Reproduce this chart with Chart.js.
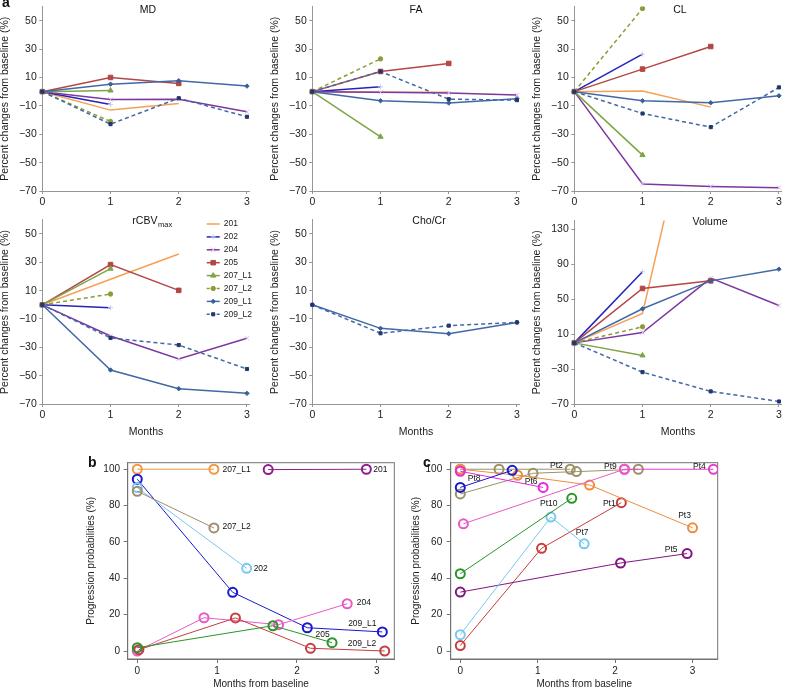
<!DOCTYPE html>
<html>
<head>
<meta charset="utf-8">
<script src="https://cdn.jsdelivr.net/npm/chart.js@4.4.1/dist/chart.umd.min.js"></script>
<style>
body { margin: 0; background: #fff; width: 788px; height: 689px; position: relative; overflow: hidden; font-family: "Liberation Sans", Arial, sans-serif; }
canvas { position: absolute; }
.panel { position: absolute; font-weight: bold; font-size: 14px; line-height: 14px; color: #111; }
</style>
</head>
<body>
<canvas id="cMD"></canvas>
<canvas id="cFA"></canvas>
<canvas id="cCL"></canvas>
<canvas id="cCBV"></canvas>
<canvas id="cCHO"></canvas>
<canvas id="cVOL"></canvas>
<canvas id="cB"></canvas>
<canvas id="cC"></canvas>
<div class="panel" style="left:2px;top:-5px">a</div>
<div class="panel" style="left:88px;top:455px">b</div>
<div class="panel" style="left:423px;top:455px">c</div>
<script>
// ---- panel a data: percent change from baseline, one row per lesion ----
var months = [0, 1, 2, 3];
var series = ['201', '202', '204', '205', '207_L1', '207_L2', '209_L1', '209_L2'];

var mdValues = [
    [0, -13, -8.3],
    [0, -9],
    [0, -5.5, -5.3, -14.2],
    [0, 10, 5.8],
    [0, 0.8],
    [0, -21],
    [0, 5.3, 7.7, 3.9],
    [0, -22.9, -4.6, -17.7]
];
var faValues = [
    [0, -0.5, -0.5],
    [0, 3.4],
    [0, -0.5, -1, -2.4],
    [0, 14.2, 19.9],
    [0, -31.8],
    [0, 23.1],
    [0, -6.4, -8, -5],
    [0, 14.2, -5.3, -6]
];
var clValues = [
    [0, 0.4, -10.9],
    [0, 26.4],
    [0, -65, -66.8, -67.7],
    [0, 15.9, 31.8],
    [0, -44.7],
    [0, 58.6],
    [0, -6.4, -7.8, -2.9],
    [0, -15.4, -25, 3]
];
var rcbvValues = [
    [0, 18, 35.9],
    [0, -2],
    [0, -22, -38.2, -23.6],
    [0, 28.4, 10.2],
    [0, 25.5],
    [0, 7.6],
    [0, -46, -59.2, -62.5],
    [0, -23.4, -28.4, -45.3]
];
var chocrValues = [
    [], [], [], [], [], [],
    [0, -16.6, -20.4, -12.4],
    [0, -20.1, -14.7, -12.4]
];
var volumeValues = [
    [0, 33.7, 370],
    [0, 81.4],
    [0, 11.9, 74.1, 42.8],
    [0, 62.3, 71],
    [0, -14.4],
    [0, 18.4],
    [0, 39, 71, 84.4],
    [0, -33.5, -55.6, -67.1]
];
var pctTicks = [-70, -50, -30, -10, 10, 30, 50];
var volumeTicks = [-70, -30, 10, 50, 90, 130];

// ---- panel b data: progression probability per lesion ----
var lesionsB = ['207_L1', '201', '209_L1', '202', '207_L2', '204', '209_L2', '205'];
var monthsB = [
    [0, 0.96],
    [1.64, 2.87],
    [0, 1.195, 2.13, 3.07],
    [0, 1.37],
    [0, 0.96],
    [0, 0.836, 1.77, 2.63],
    [0.02, 1.23, 2.17, 3.1],
    [0, 1.7, 2.44]
];
var probB = [
    [100, 100],
    [99.8, 100],
    [94.5, 32.3, 12.8, 10.5],
    [89.9, 45.5],
    [87.9, 67.7],
    [0, 18.3, 14.5, 26],
    [0.7, 18.2, 1.5, 0],
    [1.8, 13.9, 4.6]
];

// ---- panel c data: progression probability per patient ----
var patientsC = ['Pt1', 'Pt2', 'Pt2', 'Pt3', 'Pt4', 'Pt5', 'Pt6', 'Pt7', 'Pt8', 'Pt9', 'Pt10'];
var monthsC = [
    [0, 1.05, 2.08],
    [0, 0.94, 1.5, 2.3],
    [0, 0.5, 1.42],
    [0, 0.74, 1.67, 3.0],
    [2.12, 3.27],
    [0, 2.07, 2.93],
    [0, 1.07],
    [0, 1.17, 1.6],
    [0, 0.67],
    [0.04, 2.12],
    [0, 1.44]
];
var probC = [
    [3, 56.5, 81.6],
    [86.4, 97.8, 98.7, 100],
    [100, 100, 100],
    [100, 96.7, 91.3, 67.8],
    [100, 100],
    [32.4, 48.4, 53.6],
    [98.9, 90],
    [9, 73.7, 59],
    [90, 99.4],
    [70, 100],
    [42.5, 84]
];
var probTicks = [0, 20, 40, 60, 80, 100];

// ---- styles ----
var FONT = '"Liberation Sans", Arial, Helvetica, sans-serif';
Chart.defaults.font.family = FONT;
Chart.defaults.color = '#222';
var axisGrey = 'rgb(150,150,150)';
var frameGrey = 'rgb(115,115,115)';

var seriesColors = ['rgb(245,160,85)', 'rgb(35,35,185)', 'rgb(125,55,160)', 'rgb(180,70,70)',
    'rgb(125,165,70)', 'rgb(140,155,55)', 'rgb(65,105,165)', 'rgb(65,105,165)'];
var seriesDash = [[], [], [], [], [], [4, 3], [], [4, 3]];
var markers = [
    {style: 'circle', radius: 0, fill: 'rgb(245,160,85)', stroke: 'rgb(245,160,85)'},
    {style: 'cross', radius: 2.5, fill: 'rgb(200,200,240)', stroke: 'rgb(200,200,240)'},
    {style: 'crossRot', radius: 3, fill: 'rgb(220,185,235)', stroke: 'rgb(220,185,235)'},
    {style: 'rect', radius: 3.2, fill: 'rgb(180,70,70)', stroke: 'rgb(180,70,70)'},
    {style: 'triangle', radius: 3, fill: 'rgb(125,165,70)', stroke: 'rgb(125,165,70)'},
    {style: 'circle', radius: 2.2, fill: 'rgb(140,155,55)', stroke: 'rgb(140,155,55)'},
    {style: 'rectRot', radius: 2.2, fill: 'rgb(55,95,155)', stroke: 'rgb(55,95,155)'},
    {style: 'rect', radius: 2.2, fill: 'rgb(35,55,110)', stroke: 'rgb(35,55,110)'}
];

var colorsB = ['rgb(245,150,60)', 'rgb(140,30,140)', 'rgb(25,25,205)', 'rgb(120,200,240)',
    'rgb(160,140,110)', 'rgb(232,90,200)', 'rgb(200,60,60)', 'rgb(40,150,40)'];
var colorsC = ['rgb(200,60,60)', 'rgb(155,145,105)', 'rgb(155,145,105)', 'rgb(240,140,60)', 'rgb(230,60,205)',
    'rgb(130,20,130)', 'rgb(230,40,220)', 'rgb(120,200,240)', 'rgb(25,25,205)', 'rgb(232,90,200)', 'rgb(40,150,40)'];

// label offsets (pixels) next to the last point of each line
var labelStyleB = [
    {dx: 8.5, dy: 0, align: 'left'},
    {dx: 7, dy: 0, align: 'left'},
    {dx: -20, dy: -8, align: 'center'},
    {dx: 7, dy: 0, align: 'left'},
    {dx: 8.5, dy: -1, align: 'left'},
    {dx: 9.5, dy: -1, align: 'left'},
    {dx: -22.7, dy: -7, align: 'center'},
    {dx: -9.5, dy: -7.6, align: 'center'}
];
var labelStyleC = [
    {dx: -12, dy: 1, align: 'center'},
    {dx: -20, dy: -6, align: 'center', pt: 2},
    null,
    {dx: -8, dy: -12, align: 'center'},
    {dx: -14, dy: -3, align: 'center'},
    {dx: -16, dy: -4, align: 'center'},
    {dx: -12, dy: -6, align: 'center'},
    {dx: -2, dy: -11, align: 'center'},
    {dx: -38, dy: 8, align: 'center'},
    {dx: -14, dy: -3, align: 'center'},
    {dx: -23, dy: 5, align: 'center'}
];

// ---- helpers ----
function minus(v) { return String(v).replace('-', '\u2212'); }

function fixedTicks(list) {
    return function(scale) {
        scale.ticks = list.map(function(v) { return {value: v}; });
    };
}
function fitWidth(w) {
    return function(s) { s.width = w; s.paddingTop = 0; s.paddingBottom = 0; };
}
function fitHeight(h) {
    return function(s) { s.height = h; s.paddingLeft = 0; s.paddingRight = 0; };
}
function setupCanvas(id, box) {
    var cv = document.getElementById(id);
    cv.style.left = box[0] + 'px';
    cv.style.top = box[1] + 'px';
    cv.width = box[2];
    cv.height = box[3];
    return cv;
}

var titlePlugin = {
    id: 'panelTitle',
    afterDraw: function(chart, args, o) {
        if (!o || !o.text) return;
        var a = chart.chartArea, ctx = chart.ctx;
        ctx.save();
        ctx.fillStyle = '#111';
        ctx.textBaseline = 'middle';
        ctx.textAlign = 'left';
        ctx.font = '10.5px ' + FONT;
        var w = ctx.measureText(o.text).width;
        var sw = 0;
        if (o.sub) {
            ctx.font = '7.5px ' + FONT;
            sw = ctx.measureText(o.sub).width;
        }
        var x0 = (a.left + a.right) / 2 + o.dx - (w + sw) / 2;
        ctx.font = '10.5px ' + FONT;
        ctx.fillText(o.text, x0, a.top + o.dy);
        if (o.sub) {
            ctx.font = '7.5px ' + FONT;
            ctx.fillText(o.sub, x0 + w + 0.5, a.top + o.dy + 4);
        }
        ctx.restore();
    }
};

var legendPlugin = {
    id: 'seriesLegend',
    afterDraw: function(chart, args, o) {
        if (!o || !o.show) return;
        var ctx = chart.ctx, a = chart.chartArea;
        var x0 = a.right - 43, y0 = a.top + 4.2;
        ctx.save();
        ctx.font = '8.5px ' + FONT;
        ctx.textBaseline = 'middle';
        ctx.textAlign = 'left';
        for (var i = 0; i < series.length; i++) {
            var y = y0 + i * 12.9;
            ctx.strokeStyle = seriesColors[i];
            ctx.lineWidth = 1.5;
            ctx.setLineDash(seriesDash[i].length ? [3, 2] : []);
            ctx.beginPath();
            ctx.moveTo(x0, y);
            ctx.lineTo(x0 + 13, y);
            ctx.stroke();
            ctx.setLineDash([]);
            var m = markers[i];
            if (m.radius) {
                ctx.fillStyle = m.fill;
                ctx.strokeStyle = m.stroke;
                ctx.lineWidth = 1;
                Chart.helpers.drawPoint(ctx, {pointStyle: m.style, radius: m.radius, rotation: 0, borderWidth: 1}, x0 + 6.5, y);
            }
            ctx.fillStyle = '#222';
            ctx.fillText(series[i], x0 + 17, y);
        }
        ctx.restore();
    }
};

var framePlugin = {
    id: 'frameBox',
    beforeDatasetsDraw: function(chart, args, o) {
        if (!o || !o.show) return;
        var a = chart.chartArea, ctx = chart.ctx;
        ctx.save();
        ctx.strokeStyle = frameGrey;
        ctx.lineWidth = 1;
        ctx.strokeRect(a.left, a.top, a.right - a.left, a.bottom - a.top);
        ctx.restore();
    }
};

var pointLabelPlugin = {
    id: 'pointLabels',
    afterDatasetsDraw: function(chart, args, o) {
        if (!o || !o.items) return;
        var ctx = chart.ctx, xs = chart.scales.x, ys = chart.scales.y;
        ctx.save();
        ctx.font = '8.5px ' + FONT;
        ctx.fillStyle = '#111';
        ctx.textBaseline = 'middle';
        o.items.forEach(function(it) {
            var d = chart.data.datasets[it.ds].data;
            var p = d[it.pt == null ? d.length - 1 : it.pt];
            ctx.textAlign = it.align;
            ctx.fillText(it.text, xs.getPixelForValue(p.x) + it.dx, ys.getPixelForValue(p.y) + it.dy);
        });
        ctx.restore();
    }
};

// ---- panel a ----
// column: canvas left, canvas width, plot left, plot right, y-title centre
var colBox = [[0, 260, 42.3, 249.7, 5.5], [260, 262, 312.3, 519.7, 275.3], [522, 266, 574.3, 781.7, 537]];
// row: canvas top, canvas height, plot bottom
var rowBox = [[0, 212, 191], [212, 230, 404]];

var panelA = [
    {id: 'cMD', title: 'MD', values: mdValues, ticks: pctTicks, min: -70, max: 60, col: 0, row: 0, top: 6.5, dx: 2, dy: 3.5},
    {id: 'cFA', title: 'FA', values: faValues, ticks: pctTicks, min: -70, max: 60, col: 1, row: 0, top: 6.5, dx: 0, dy: 3.5},
    {id: 'cCL', title: 'CL', values: clValues, ticks: pctTicks, min: -70, max: 60, col: 2, row: 0, top: 6.5, dx: 2, dy: 3.5},
    {id: 'cCBV', title: 'rCBV', sub: 'max', values: rcbvValues, ticks: pctTicks, min: -70, max: 60, col: 0, row: 1, top: 219.8, dx: 6, dy: 1.5, legend: true},
    {id: 'cCHO', title: 'Cho/Cr', values: chocrValues, ticks: pctTicks, min: -70, max: 60, col: 1, row: 1, top: 219.8, dx: 13, dy: 1.5},
    {id: 'cVOL', title: 'Volume', values: volumeValues, ticks: volumeTicks, min: -70, max: 140, col: 2, row: 1, top: 220.6, dx: 32, dy: 1.7}
];

function drawPanelA(p) {
    var c = colBox[p.col], r = rowBox[p.row];
    var box = [c[0], r[0], c[1], r[1]];
    var cv = setupCanvas(p.id, box);
    var datasets = [];
    for (var i = 0; i < series.length; i++) {
        var vals = p.values[i];
        if (!vals.length) continue;
        var m = markers[i];
        datasets.push({
            label: series[i],
            data: vals.map(function(v, k) { return {x: months[k], y: v}; }),
            borderColor: seriesColors[i],
            borderWidth: 1.5,
            borderDash: seriesDash[i],
            pointStyle: m.style,
            pointRadius: m.radius,
            pointBorderWidth: 1,
            pointBackgroundColor: m.fill,
            pointBorderColor: m.stroke,
            fill: false,
            tension: 0,
            order: -i,
            clip: {left: 6, top: 0, right: 6, bottom: 6}
        });
    }
    var showMonths = p.row === 1;
    var tickFont = {size: 10.5};
    new Chart(cv, {
        type: 'line',
        data: {datasets: datasets},
        options: {
            responsive: false,
            animation: false,
            devicePixelRatio: 1,
            layout: {autoPadding: false, padding: {left: 0, top: p.top - r[0], right: c[0] + c[1] - c[3], bottom: 0}},
            scales: {
                x: {
                    type: 'linear', min: 0, max: 3.04,
                    afterBuildTicks: fixedTicks(months),
                    afterFit: fitHeight(r[0] + r[1] - r[2]),
                    grid: {drawOnChartArea: false, drawTicks: true, tickLength: 3, color: axisGrey},
                    border: {display: true, color: axisGrey, width: 1},
                    ticks: {font: tickFont, color: '#222', padding: 1.5, maxRotation: 0, autoSkip: false},
                    title: {display: showMonths, text: 'Months', font: {size: 10.5, lineHeight: 1}, color: '#222', padding: {top: 0, bottom: 5}}
                },
                y: {
                    type: 'linear', min: p.min, max: p.max,
                    afterBuildTicks: fixedTicks(p.ticks),
                    afterFit: fitWidth(c[2] - c[0]),
                    grid: {drawOnChartArea: false, drawTicks: true, tickLength: 3, color: axisGrey},
                    border: {display: true, color: axisGrey, width: 1},
                    ticks: {font: tickFont, color: '#222', padding: 2.5, autoSkip: false, callback: minus},
                    title: {display: true, text: 'Percent changes from baseline (%)', font: {size: 10.5, lineHeight: 1}, color: '#222',
                        padding: {top: Math.max(0, c[4] - c[0] - 5.25), bottom: 0}}
                }
            },
            plugins: {
                legend: {display: false},
                tooltip: {enabled: false},
                panelTitle: {text: p.title, sub: p.sub, dx: p.dx, dy: p.dy},
                seriesLegend: {show: !!p.legend}
            }
        },
        plugins: [titlePlugin, legendPlugin]
    });
}

panelA.forEach(drawPanelA);

// ---- panels b and c ----
function drawProbPanel(id, box, area, xRange, names, xs, ys, colors, labelStyle, titlePad, tickPad) {
    var cv = setupCanvas(id, box);
    var datasets = names.map(function(n, i) {
        return {
            label: n,
            data: xs[i].map(function(x, k) { return {x: x, y: ys[i][k]}; }),
            borderColor: colors[i],
            borderWidth: 1,
            pointStyle: 'circle',
            pointRadius: 4.5,
            pointBorderWidth: 2,
            pointBackgroundColor: 'rgba(255,255,255,0)',
            pointBorderColor: colors[i],
            fill: false,
            tension: 0,
            order: -i
        };
    });
    var items = [];
    labelStyle.forEach(function(s, i) {
        if (!s) return;
        items.push({ds: i, pt: s.pt, text: names[i], dx: s.dx, dy: s.dy, align: s.align});
    });
    var tickFont = {size: 10};
    new Chart(cv, {
        type: 'line',
        data: {datasets: datasets},
        options: {
            responsive: false,
            animation: false,
            devicePixelRatio: 1,
            layout: {autoPadding: false, padding: {left: 0, top: area[1] - box[1], right: box[0] + box[2] - area[2], bottom: 0}},
            scales: {
                x: {
                    type: 'linear', min: xRange[0], max: xRange[1],
                    afterBuildTicks: fixedTicks(months),
                    afterFit: fitHeight(box[1] + box[3] - area[3]),
                    grid: {drawOnChartArea: false, drawTicks: true, tickLength: 4, color: frameGrey},
                    border: {display: true, color: frameGrey, width: 1},
                    ticks: {font: tickFont, color: '#222', padding: 2.7, maxRotation: 0, autoSkip: false},
                    title: {display: true, text: 'Months from baseline', font: {size: 10, lineHeight: 1}, color: '#222', padding: {top: 0, bottom: 0}}
                },
                y: {
                    type: 'linear', min: -4.4, max: 103.6,
                    afterBuildTicks: fixedTicks(probTicks),
                    afterFit: fitWidth(area[0] - box[0]),
                    grid: {drawOnChartArea: false, drawTicks: true, tickLength: 4, color: frameGrey},
                    border: {display: true, color: frameGrey, width: 1},
                    ticks: {font: tickFont, color: '#222', padding: tickPad, autoSkip: false},
                    title: {display: true, text: 'Progression probabilities (%)', font: {size: 10, lineHeight: 1}, color: '#222', padding: {top: titlePad, bottom: 0}}
                }
            },
            plugins: {
                legend: {display: false},
                tooltip: {enabled: false},
                frameBox: {show: true},
                pointLabels: {items: items}
            }
        },
        plugins: [framePlugin, pointLabelPlugin]
    });
}

drawProbPanel('cB', [60, 455, 340, 234], [127.7, 462.7, 394.3, 659], [-0.12, 3.22],
    lesionsB, monthsB, probB, colorsB, labelStyleB, 26.7, 3.7);
drawProbPanel('cC', [400, 455, 388, 234], [450.7, 462.7, 717.7, 659], [-0.124, 3.325],
    patientsC, monthsC, probC, colorsC, labelStyleC, 11.7, 4.5);
</script>
</body>
</html>
